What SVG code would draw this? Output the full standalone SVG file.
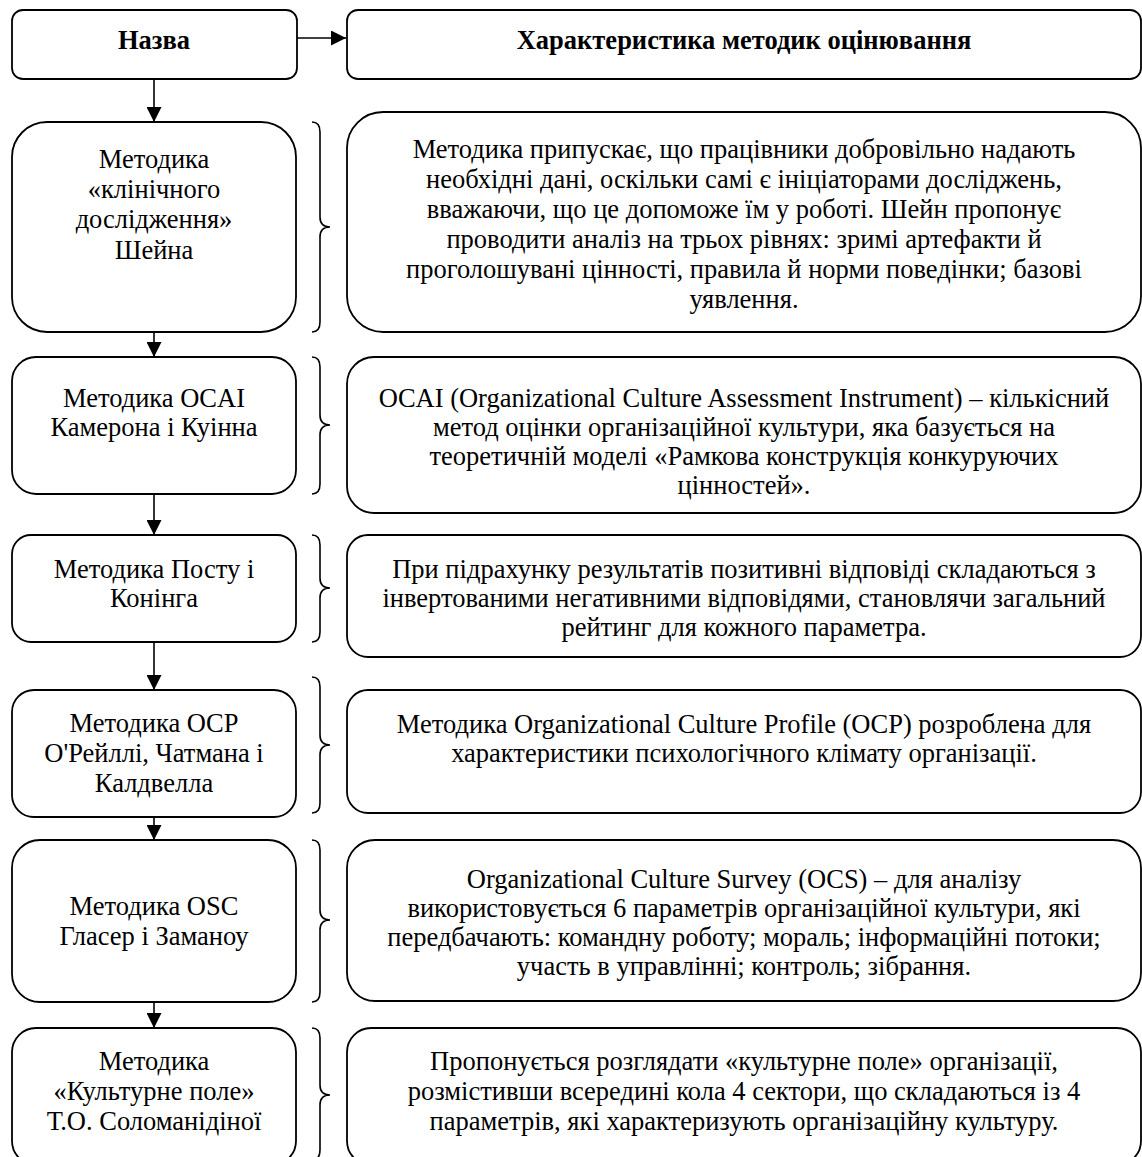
<svg xmlns="http://www.w3.org/2000/svg" width="1142" height="1157" viewBox="0 0 1142 1157">
<defs>
<style>
.box{fill:#fff;stroke:#000;stroke-width:1.8}
.br{fill:none;stroke:#000;stroke-width:1.6}
.ln{fill:none;stroke:#000;stroke-width:1.6}
text{font-family:"Liberation Serif","Times New Roman",serif;font-size:26.5px;fill:#000;text-anchor:middle}
.b{font-weight:bold}
</style>
<marker id="ah" viewBox="0 0 10 10" refX="10" refY="5" markerWidth="15" markerHeight="15" markerUnits="userSpaceOnUse" orient="auto">
<path d="M0,0 L10,5 L0,10 Z" fill="#000"/>
</marker>
</defs>
<rect width="1142" height="1157" fill="#fff"/>
<g id="connectors">
<line class="ln" x1="297" y1="38" x2="346" y2="38" marker-end="url(#ah)"/>
<line class="ln" x1="154" y1="79" x2="154" y2="122" marker-end="url(#ah)"/>
<line class="ln" x1="154" y1="332" x2="154" y2="357" marker-end="url(#ah)"/>
<line class="ln" x1="154" y1="494" x2="154" y2="535" marker-end="url(#ah)"/>
<line class="ln" x1="154" y1="642" x2="154" y2="690" marker-end="url(#ah)"/>
<line class="ln" x1="154" y1="817" x2="154" y2="840" marker-end="url(#ah)"/>
<line class="ln" x1="154" y1="1002" x2="154" y2="1028" marker-end="url(#ah)"/>
</g>
<g id="braces">
<path class="br" d="M312,122 Q320,122 320,132 L320,217 Q320,227 330,227 Q320,227 320,237 L320,322 Q320,332 312,332"/>
<path class="br" d="M312,357 Q320,357 320,367 L320,415 Q320,425 330,425 Q320,425 320,435 L320,484 Q320,494 312,494"/>
<path class="br" d="M312,535 Q320,535 320,545 L320,578 Q320,588 330,588 Q320,588 320,598 L320,632 Q320,642 312,642"/>
<path class="br" d="M312,677 Q320,677 320,687 L320,735 Q320,745 330,745 Q320,745 320,755 L320,803 Q320,813 312,813"/>
<path class="br" d="M312,840 Q320,840 320,850 L320,910 Q320,920 330,920 Q320,920 320,930 L320,992 Q320,1002 312,1002"/>
<path class="br" d="M312,1028 Q320,1028 320,1038 L320,1085 Q320,1095 330,1095 Q320,1095 320,1105 L320,1150 Q320,1160 312,1160"/>
</g>
<g id="head-name">
<rect class="box" x="12" y="10" width="285" height="69" rx="11"/>
<text class="b" x="154" y="49">Назва</text>
</g>
<g id="head-char">
<rect class="box" x="347" y="10" width="794" height="69" rx="11"/>
<text class="b" x="744" y="49">Характеристика методик оцінювання</text>
</g>
<g id="n1">
<rect class="box" x="12" y="122" width="284" height="210" rx="35"/>
<text x="154" y="168">Методика</text>
<text x="154" y="198">«клінічного</text>
<text x="154" y="228">дослідження»</text>
<text x="154" y="259">Шейна</text>
</g>
<g id="d1">
<rect class="box" x="347" y="112" width="794" height="220" rx="36"/>
<text x="744" y="158">Методика припускає, що працівники добровільно надають</text>
<text x="744" y="188">необхідні дані, оскільки самі є ініціаторами досліджень,</text>
<text x="744" y="218">вважаючи, що це допоможе їм у роботі. Шейн пропонує</text>
<text x="744" y="248">проводити аналіз на трьох рівнях: зримі артефакти й</text>
<text x="744" y="278">проголошувані цінності, правила й норми поведінки; базові</text>
<text x="744" y="308">уявлення.</text>
</g>
<g id="n2">
<rect class="box" x="12" y="357" width="284" height="137" rx="24"/>
<text x="154" y="407">Методика OCAI</text>
<text x="154" y="436">Камерона і Куінна</text>
</g>
<g id="d2">
<rect class="box" x="347" y="357" width="794" height="156" rx="27"/>
<text x="744" y="407">OCAI (Organizational Culture Assessment Instrument) – кількісний</text>
<text x="744" y="436">метод оцінки організаційної культури, яка базується на</text>
<text x="744" y="465">теоретичній моделі «Рамкова конструкція конкуруючих</text>
<text x="744" y="494">цінностей».</text>
</g>
<g id="n3">
<rect class="box" x="12" y="535" width="284" height="107" rx="19"/>
<text x="154" y="578">Методика Посту і</text>
<text x="154" y="607">Конінга</text>
</g>
<g id="d3">
<rect class="box" x="347" y="535" width="794" height="122" rx="21"/>
<text x="744" y="578">При підрахунку результатів позитивні відповіді складаються з</text>
<text x="744" y="607">інвертованими негативними відповідями, становлячи загальний</text>
<text x="744" y="636">рейтинг для кожного параметра.</text>
</g>
<g id="n4">
<rect class="box" x="12" y="690" width="284" height="127" rx="22"/>
<text x="154" y="732">Методика OCP</text>
<text x="154" y="762">О'Рейллі, Чатмана і</text>
<text x="154" y="792">Калдвелла</text>
</g>
<g id="d4">
<rect class="box" x="347" y="690" width="794" height="123" rx="21"/>
<text x="744" y="733">Методика Organizational Culture Profile (OCP) розроблена для</text>
<text x="744" y="762">характеристики психологічного клімату організації.</text>
</g>
<g id="n5">
<rect class="box" x="12" y="840" width="284" height="162" rx="28"/>
<text x="154" y="915">Методика OSC</text>
<text x="154" y="945">Гласер і Заманоу</text>
</g>
<g id="d5">
<rect class="box" x="347" y="840" width="794" height="161" rx="28"/>
<text x="744" y="888">Organizational Culture Survey (OCS) – для аналізу</text>
<text x="744" y="917">використовується 6 параметрів організаційної культури, які</text>
<text x="744" y="946">передбачають: командну роботу; мораль; інформаційні потоки;</text>
<text x="744" y="975">участь в управлінні; контроль; зібрання.</text>
</g>
<g id="n6">
<rect class="box" x="12" y="1028" width="284" height="137" rx="24"/>
<text x="154" y="1070">Методика</text>
<text x="154" y="1100">«Культурне поле»</text>
<text x="154" y="1130">Т.О. Соломанідіної</text>
</g>
<g id="d6">
<rect class="box" x="347" y="1028" width="794" height="137" rx="24"/>
<text x="744" y="1070">Пропонується розглядати «культурне поле» організації,</text>
<text x="744" y="1100">розмістивши всередині кола 4 сектори, що складаються із 4</text>
<text x="744" y="1130">параметрів, які характеризують організаційну культуру.</text>
</g>
</svg>
